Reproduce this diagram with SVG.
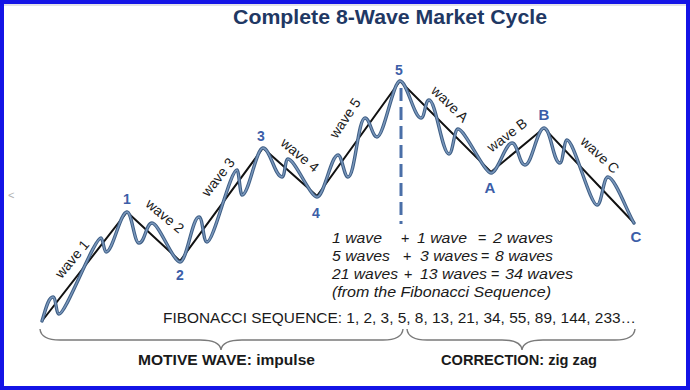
<svg xmlns="http://www.w3.org/2000/svg" xmlns:xlink="http://www.w3.org/1999/xlink" width="690" height="390" viewBox="0 0 690 390">
<style>
.title{font-family:"Liberation Sans",Arial,sans-serif;font-weight:bold;font-size:20px;fill:#1f3864}
.piv{font-family:"Liberation Sans",Arial,sans-serif;font-weight:bold;font-size:14px;fill:#3c5ea8;text-anchor:middle}
.pivL{font-size:15px}
.wl{font-family:"Liberation Sans",Arial,sans-serif;font-size:14px;fill:#1a1a1a;text-anchor:middle}
.fm{font-family:"Liberation Sans",Arial,sans-serif;font-style:italic;font-size:14.5px;fill:#1a1a1a}
.fib{font-family:"Liberation Sans",Arial,sans-serif;font-size:15px;fill:#1a1a1a}
.bot{font-family:"Liberation Sans",Arial,sans-serif;font-weight:bold;font-size:15px;fill:#1a1a1a}
.zig{fill:none;stroke:#111;stroke-width:2;stroke-linejoin:miter}
.wigOut{fill:none;stroke:#3f5f86;stroke-width:3.4;stroke-linecap:round;stroke-linejoin:round}
.wigIn{fill:none;stroke:#7b98bc;stroke-width:1.3;stroke-linecap:round;stroke-linejoin:round}
.dash{stroke:#4a6fa8;stroke-width:3;stroke-dasharray:13 6}
.brace{fill:none;stroke:#7a7a7a;stroke-width:1.4}
</style>
<defs>
<path id="wig" d="M42,321 C45,312 48,297 53,297 C56,297 56,314 59,314 C66,314 94,238 101,238 C103,238 104,252 106,252 C113,252 120,212 127,212 C132,212 134,243 139,243 C145,243 146,223 152,223 C159,223 173,262 180,262 C187,262 192,217 199,217 C203,217 203,242 207,242 C214,242 230,170 237,170 C239,170 240,195 242,195 C249,195 256,148 263,148 C270,148 275,177 282,177 C285,177 285,159 288,159 C295,159 310,197 317,197 C324,197 331,155 338,155 C342,155 344,177 348,177 C355,177 358,118 365,118 C370,118 372,137 377,137 C384,137 393,81 400,81 C407,81 414,118 421,118 C425,118 425,100 429,100 C436,100 442,154 449,154 C453,154 454,129 458,129 C465,129 484,173 491,173 C498,173 505,143 512,143 C518,143 519,165 525,165 C532,165 537,128 544,128 C551,128 553,163 560,163 C563,163 564,140 567,140 C574,140 590,205 597,205 C602,205 603,177 608,177 C615,177 628,214 634,223"/>
</defs>
<rect x="0" y="0" width="690" height="390" fill="#ffffff"/>
<rect x="2" y="2" width="686" height="386" fill="none" stroke="#1414e6" stroke-width="4"/>
<line x1="4" y1="5" x2="686" y2="5" stroke="#d8d8e0" stroke-width="1.5"/>
<text x="8" y="199" font-family="Liberation Sans, sans-serif" font-size="11" fill="#b0b0b0">&lt;</text>

<g id="title"><text class="title" x="390" y="24" text-anchor="middle" textLength="314" lengthAdjust="spacingAndGlyphs">Complete 8-Wave Market Cycle</text></g>

<g id="connectors">
<line class="dash" x1="401" y1="88" x2="401" y2="224"/>
<polyline class="zig" points="42,321 127,212 180,261 263,148 317,196 400,81 491,172 544,128 634,223"/>
<use xlink:href="#wig" class="wigOut"/>
<use xlink:href="#wig" class="wigIn"/>
</g>

<g id="pivots">
<text class="piv" x="127" y="204">1</text>
<text class="piv" x="180" y="280">2</text>
<text class="piv" x="261" y="141">3</text>
<text class="piv" x="316" y="218">4</text>
<text class="piv" x="399" y="75">5</text>
<text class="piv pivL" x="490" y="193">A</text>
<text class="piv pivL" x="544" y="120">B</text>
<text class="piv pivL" x="636" y="242">C</text>
</g>

<g id="wave-labels">
<text class="wl" x="72" y="259" dy="0.35em" transform="rotate(-50 72 259)">wave 1</text>
<text class="wl" x="165" y="216" dy="0.35em" transform="rotate(40 165 216)">wave 2</text>
<text class="wl" x="218" y="177" dy="0.35em" transform="rotate(-52 218 177)">wave 3</text>
<text class="wl" x="300" y="155" dy="0.35em" transform="rotate(40 300 155)">wave 4</text>
<text class="wl" x="345" y="118" dy="0.35em" transform="rotate(-56 345 118)">wave 5</text>
<text class="wl" x="450" y="104" dy="0.35em" transform="rotate(44 450 104)">wave A</text>
<text class="wl" x="507" y="135" dy="0.35em" transform="rotate(-37 507 135)">wave B</text>
<text class="wl" x="600" y="155" dy="0.35em" transform="rotate(43 600 155)">wave C</text>
</g>

<g id="formulas">
<text class="fm" x="332" y="243" textLength="50" lengthAdjust="spacingAndGlyphs">1 wave</text>
<text class="fm" x="405" y="243" text-anchor="middle">+</text>
<text class="fm" x="417" y="243" textLength="50" lengthAdjust="spacingAndGlyphs">1 wave</text>
<text class="fm" x="482" y="243" text-anchor="middle">=</text>
<text class="fm" x="493" y="243" textLength="60" lengthAdjust="spacingAndGlyphs">2 waves</text>

<text class="fm" x="332" y="261" textLength="58" lengthAdjust="spacingAndGlyphs">5 waves</text>
<text class="fm" x="407" y="261" text-anchor="middle">+</text>
<text class="fm" x="420" y="261" textLength="58" lengthAdjust="spacingAndGlyphs">3 waves</text>
<text class="fm" x="485" y="261" text-anchor="middle">=</text>
<text class="fm" x="495" y="261" textLength="58" lengthAdjust="spacingAndGlyphs">8 waves</text>

<text class="fm" x="332" y="279" textLength="66" lengthAdjust="spacingAndGlyphs">21 waves</text>
<text class="fm" x="408" y="279" text-anchor="middle">+</text>
<text class="fm" x="420" y="279" textLength="67" lengthAdjust="spacingAndGlyphs">13 waves</text>
<text class="fm" x="495" y="279" text-anchor="middle">=</text>
<text class="fm" x="505" y="279" textLength="68" lengthAdjust="spacingAndGlyphs">34 waves</text>

<text class="fm" x="332" y="297" textLength="219" lengthAdjust="spacingAndGlyphs">(from the Fibonacci Sequence)</text>
</g>

<g id="fibonacci"><text class="fib" x="163" y="323" textLength="473" lengthAdjust="spacingAndGlyphs">FIBONACCI SEQUENCE: 1, 2, 3, 5, 8, 13, 21, 34, 55, 89, 144, 233…</text></g>

<g id="braces">
<path class="brace" d="M40,329 Q41,340 60,340 L200,340 Q220,340 221,350 Q222,340 242,340 L383,340 Q402,340 403,329"/>
<path class="brace" d="M407,329 Q408,340 427,340 L502,340 Q521,340 522,350 Q523,340 543,340 L615,340 Q634,340 635,329"/>
</g>

<g id="motive"><text class="bot" x="138" y="365" textLength="177" lengthAdjust="spacingAndGlyphs">MOTIVE WAVE: impulse</text></g>
<g id="correction"><text class="bot" x="441" y="365" textLength="156" lengthAdjust="spacingAndGlyphs">CORRECTION: zig zag</text></g>
</svg>
